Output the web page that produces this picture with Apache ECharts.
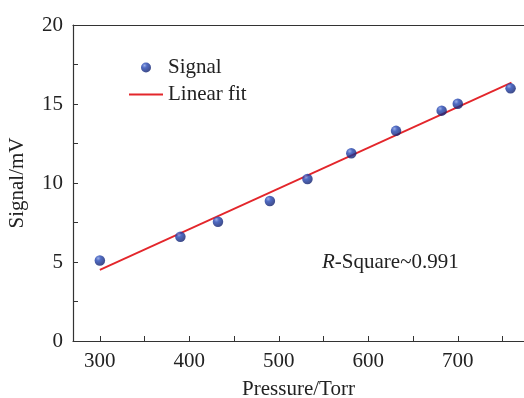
<!DOCTYPE html>
<html>
<head>
<meta charset="utf-8">
<script src="https://cdn.jsdelivr.net/npm/echarts@6/dist/echarts.min.js"></script>
<style>
  html, body { margin: 0; padding: 0; background: #fff; }
  #container { width: 524px; height: 398px; }
</style>
</head>
<body>
<div id="container"></div>
<script>
// measured signal vs pressure
let pressure = [300, 390, 432, 490, 532, 581, 631, 682, 700, 759];
let signal = [5.1, 6.6, 7.55, 8.86, 10.25, 11.88, 13.3, 14.58, 15.02, 15.99];
// linear fit end points
let fitX = [300, 760];
let fitY = [4.5, 16.35];
let xLabels = [300, 400, 500, 600, 700];
let xTicks = [300, 350, 400, 450, 500, 550, 600, 650, 700, 750];
let yLabels = [0, 5, 10, 15, 20];
let yTicks = [0, 2.5, 5, 7.5, 10, 12.5, 15, 17.5, 20];

let font = "Liberation Serif";
let fontSize = 21;
let axisColor = "#333";
let textColor = "#222";

let dom = document.getElementById("container");
let myChart = echarts.init(dom, null, { renderer: "canvas" });

let sphere = new echarts.graphic.RadialGradient(0.35, 0.3, 0.7, [
  { offset: 0, color: "#7f98e0" },
  { offset: 0.35, color: "#2446b4" },
  { offset: 1, color: "#10206e" },
]);

let option = {
  animation: false,
  textStyle: { fontFamily: font },
  grid: { left: 73, top: 25, right: 0, bottom: 57, outerBoundsMode: "none" },
  legend: {
    left: 124,
    top: 52,
    orient: "vertical",
    itemWidth: 34,
    itemHeight: 10,
    itemGap: 6,
    textStyle: { fontFamily: font, fontSize: fontSize, color: textColor },
    data: [
      { name: "Signal" },
      { name: "Linear fit", icon: "path://M0,0 L34,0 L34,2 L0,2 Z", itemStyle: { color: "#e3262b" } },
    ],
  },
  xAxis: [
    {
      type: "value",
      min: 270,
      max: 774,
      name: "Pressure/Torr",
      nameLocation: "middle",
      nameGap: 38,
      nameTextStyle: { fontFamily: font, fontSize: fontSize, color: textColor },
      splitLine: { show: false },
      axisLine: { lineStyle: { color: axisColor, width: 1.2 } },
      axisTick: { inside: true, length: 5, customValues: xTicks, lineStyle: { color: axisColor } },
      axisLabel: { customValues: xLabels, fontFamily: font, fontSize: fontSize, color: textColor, margin: 10 },
    },
    {
      type: "value",
      position: "top",
      min: 270,
      max: 774,
      splitLine: { show: false },
      axisLine: { lineStyle: { color: axisColor, width: 1.2 } },
      axisTick: { show: false },
      axisLabel: { show: false },
    },
  ],
  yAxis: {
    type: "value",
    min: 0,
    max: 20,
    name: "Signal/mV",
    nameLocation: "middle",
    nameGap: 45,
    nameTextStyle: { fontFamily: font, fontSize: fontSize, color: textColor },
    splitLine: { show: false },
    axisLine: { show: true, lineStyle: { color: axisColor, width: 1.2 } },
    axisTick: { show: true, inside: true, length: 5, customValues: yTicks, lineStyle: { color: axisColor } },
    axisLabel: { customValues: yLabels, fontFamily: font, fontSize: fontSize, color: textColor, margin: 10 },
  },
  graphic: [
    {
      type: "text",
      left: 322,
      top: 252,
      style: {
        text: "{i|R}-Square~0.991",
        font: fontSize + "px " + font,
        fill: textColor,
        rich: {
          i: { fontStyle: "italic", fontFamily: font, fontSize: fontSize, fill: textColor },
        },
      },
    },
  ],
  series: [
    {
      name: "Linear fit",
      type: "line",
      data: fitX.map((x, i) => [x, fitY[i]]),
      symbol: "none",
      lineStyle: { color: "#e3262b", width: 1.8 },
      itemStyle: { color: "#e3262b" },
      z: 2,
    },
    {
      name: "Signal",
      type: "scatter",
      data: pressure.map((x, i) => [x, signal[i]]),
      symbolSize: 10.5,
      itemStyle: { color: sphere },
      z: 3,
    },
  ],
};

myChart.setOption(option);
window.addEventListener("resize", myChart.resize);
</script>
</body>
</html>
